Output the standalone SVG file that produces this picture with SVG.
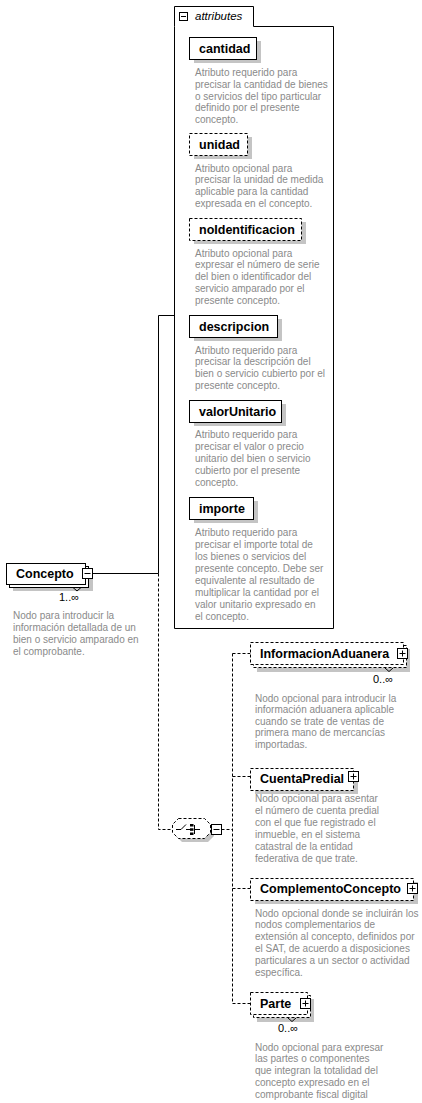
<svg xmlns="http://www.w3.org/2000/svg" width="422" height="1103" viewBox="0 0 422 1103">
<defs>
<style>
.bx{fill:#fff;stroke:#000;stroke-width:1}
.dsh{stroke-dasharray:3,2}
.sh{fill:#c4c4c4}
.nm{font-family:"Liberation Sans",Arial,sans-serif;font-weight:bold;font-size:12.5px;fill:#000}
.ds{font-family:"Liberation Sans",Arial,sans-serif;font-size:10px;fill:#8a8a8a}
.oc{font-family:"Liberation Sans",Arial,sans-serif;font-size:11px;fill:#000}
.ln{fill:none;stroke:#000;stroke-width:1}
.ic{fill:#fff;stroke:#000;stroke-width:1}
</style>
</defs>
<rect width="422" height="1103" fill="#fff"/>

<g id="connectors">
<path class="ln" d="M92.5,573.5 H158.5 M158.5,315.5 V573.5 M158.5,315.5 H174.5"/>
<path class="ln dsh" d="M158.5,573.5 V829.5 H172.5 M221.5,829.5 H232.5 M232.5,653.5 V1003.5 M232.5,653.5 H250.5 M232.5,776.5 H250.5 M232.5,888.5 H250.5 M232.5,1003.5 H250.5"/>
</g>

<g id="attributes">
<path class="bx" d="M174.5,26.5 V6.5 H253.5 V26.5 H333.5 V628.5 H174.5 Z"/>
<rect class="ic" x="179.5" y="12.5" width="8" height="8"/>
<path class="ln" d="M181,16.5 H186"/>
<text x="195" y="20" font-family="Liberation Sans, Arial, sans-serif" font-style="italic" font-size="11.5px" fill="#000">attributes</text>
</g>

<g id="attr-cantidad">
<rect class="sh" x="194" y="41" width="67" height="22"/>
<rect class="bx" x="189.5" y="37.5" width="67" height="22"/>
<text class="nm" x="199" y="53">cantidad</text>
<text class="ds"><tspan x="195" y="76">Atributo requerido para</tspan><tspan x="195" y="87.8">precisar la cantidad de bienes</tspan><tspan x="195" y="99.6">o servicios del tipo particular</tspan><tspan x="195" y="111.4">definido por el presente</tspan><tspan x="195" y="123.2">concepto.</tspan></text>
</g>

<g id="attr-unidad">
<rect class="sh" x="194" y="137" width="58" height="22"/>
<rect class="bx dsh" x="189.5" y="133.5" width="58" height="22"/>
<text class="nm" x="199" y="149">unidad</text>
<text class="ds"><tspan x="195" y="171.5">Atributo opcional para</tspan><tspan x="195" y="183.4">precisar la unidad de medida</tspan><tspan x="195" y="195.3">aplicable para la cantidad</tspan><tspan x="195" y="207.2">expresada en el concepto.</tspan></text>
</g>

<g id="attr-noIdentificacion">
<rect class="sh" x="194" y="222" width="112" height="22"/>
<rect class="bx dsh" x="189.5" y="218.5" width="112" height="22"/>
<text class="nm" x="199" y="234">noIdentificacion</text>
<text class="ds"><tspan x="195" y="256.5">Atributo opcional para</tspan><tspan x="195" y="268.4">expresar el número de serie</tspan><tspan x="195" y="280.3">del bien o identificador del</tspan><tspan x="195" y="292.2">servicio amparado por el</tspan><tspan x="195" y="304.1">presente concepto.</tspan></text>
</g>

<g id="attr-descripcion">
<rect class="sh" x="194" y="319" width="88" height="22"/>
<rect class="bx" x="189.5" y="315.5" width="88" height="22"/>
<text class="nm" x="199" y="331">descripcion</text>
<text class="ds"><tspan x="195" y="353.5">Atributo requerido para</tspan><tspan x="195" y="365.4">precisar la descripción del</tspan><tspan x="195" y="377.3">bien o servicio cubierto por el</tspan><tspan x="195" y="389.2">presente concepto.</tspan></text>
</g>

<g id="attr-valorUnitario">
<rect class="sh" x="194" y="404" width="92" height="22"/>
<rect class="bx" x="189.5" y="400.5" width="92" height="22"/>
<text class="nm" x="199" y="416">valorUnitario</text>
<text class="ds"><tspan x="195" y="437.5">Atributo requerido para</tspan><tspan x="195" y="449.5">precisar el valor o precio</tspan><tspan x="195" y="461.5">unitario del bien o servicio</tspan><tspan x="195" y="473.5">cubierto por el presente</tspan><tspan x="195" y="485.5">concepto.</tspan></text>
</g>

<g id="attr-importe">
<rect class="sh" x="194" y="501" width="64" height="22"/>
<rect class="bx" x="189.5" y="497.5" width="64" height="22"/>
<text class="nm" x="199" y="513">importe</text>
<text class="ds"><tspan x="195" y="535.5">Atributo requerido para</tspan><tspan x="195" y="547.5">precisar el importe total de</tspan><tspan x="195" y="559.5">los bienes o servicios del</tspan><tspan x="195" y="571.5">presente concepto. Debe ser</tspan><tspan x="195" y="583.5">equivalente al resultado de</tspan><tspan x="195" y="595.5">multiplicar la cantidad por el</tspan><tspan x="195" y="607.5">valor unitario expresado en</tspan><tspan x="195" y="619.5">el concepto.</tspan></text>
</g>

<g id="node-Concepto">
<rect class="sh" x="13" y="570" width="80" height="21"/>
<rect class="bx" x="9.5" y="566.5" width="79" height="21"/>
<rect class="bx" x="6.5" y="563.5" width="79" height="21"/>
<path class="ln" d="M73,587.5 L77,591 L81,587.5"/>
<text class="nm" x="16" y="578">Concepto</text>
<rect class="ic" x="82.5" y="568.5" width="10" height="10"/>
<path class="ln" d="M84.5,573.5 H90.5"/>
<text class="oc" x="59" y="601">1..∞</text>
<text class="ds"><tspan x="13" y="618.5">Nodo para introducir la</tspan><tspan x="13" y="630.5">información detallada de un</tspan><tspan x="13" y="642.5">bien o servicio amparado en</tspan><tspan x="13" y="654.5">el comprobante.</tspan></text>
</g>

<g id="sequence">
<path class="sh" d="M182,822 H208 L214,828 V836 L208,842 H182 L176,836 V828 Z"/>
<path class="bx dsh" d="M178.5,818.5 H204.5 L210.5,824.5 V832.5 L204.5,838.5 H178.5 L172.5,832.5 V824.5 Z"/>
<path class="ln" d="M176,829.5 H181 L186,824.5 M186,829.5 H190 M194.5,825 V834 M194.5,829.5 H200"/>
<rect x="190" y="824" width="3.5" height="2.5" fill="#000"/>
<rect x="190" y="828.3" width="3.5" height="2.5" fill="#000"/>
<rect x="190" y="832.5" width="3.5" height="2.5" fill="#000"/>
<rect class="ic" x="211.5" y="824.5" width="10" height="10"/>
<path class="ln" d="M213.5,829.5 H219.5"/>
</g>

<g id="node-InformacionAduanera">
<rect class="sh" x="257" y="649" width="153" height="23"/>
<rect class="bx dsh" x="253.5" y="645.5" width="153" height="22"/>
<rect class="bx dsh" x="250.5" y="642.5" width="153" height="22"/>
<path class="ln" d="M385,668 L389,671.5 L393,668"/>
<text class="nm" x="260" y="658">InformacionAduanera</text>
<rect class="ic" x="397.5" y="648.5" width="10" height="10"/>
<path class="ln" d="M399.5,653.5 H405.5 M402.5,650.5 V656.5"/>
<text class="oc" x="373" y="683">0..∞</text>
<text class="ds"><tspan x="255" y="701.5">Nodo opcional para introducir la</tspan><tspan x="255" y="713">información aduanera aplicable</tspan><tspan x="255" y="724.5">cuando se trate de ventas de</tspan><tspan x="255" y="736">primera mano de mercancías</tspan><tspan x="255" y="747.5">importadas.</tspan></text>
</g>

<g id="node-CuentaPredial">
<rect class="sh" x="255" y="772" width="103" height="22"/>
<rect class="bx dsh" x="250.5" y="768.5" width="103" height="22"/>
<text class="nm" x="260" y="783">CuentaPredial</text>
<rect class="ic" x="348.5" y="771.5" width="10" height="10"/>
<path class="ln" d="M350.5,776.5 H356.5 M353.5,773.5 V779.5"/>
<text class="ds"><tspan x="255" y="801.5">Nodo opcional para asentar</tspan><tspan x="255" y="813.5">el número de cuenta predial</tspan><tspan x="255" y="825.5">con el que fue registrado el</tspan><tspan x="255" y="837.5">inmueble, en el sistema</tspan><tspan x="255" y="849.5">catastral de la entidad</tspan><tspan x="255" y="861.5">federativa de que trate.</tspan></text>
</g>

<g id="node-ComplementoConcepto">
<rect class="sh" x="255" y="882" width="163" height="22"/>
<rect class="bx dsh" x="250.5" y="878.5" width="163" height="22"/>
<text class="nm" x="260" y="893">ComplementoConcepto</text>
<rect class="ic" x="407.5" y="883.5" width="10" height="10"/>
<path class="ln" d="M409.5,888.5 H415.5 M412.5,885.5 V891.5"/>
<text class="ds"><tspan x="255" y="916.5">Nodo opcional donde se incluirán los</tspan><tspan x="255" y="928.3">nodos complementarios de</tspan><tspan x="255" y="940.1">extensión al concepto, definidos por</tspan><tspan x="255" y="951.9">el SAT, de acuerdo a disposiciones</tspan><tspan x="255" y="963.7">particulares a un sector o actividad</tspan><tspan x="255" y="975.5">específica.</tspan></text>
</g>

<g id="node-Parte">
<rect class="sh" x="257" y="999" width="57" height="23"/>
<rect class="bx dsh" x="253.5" y="995.5" width="57" height="22"/>
<rect class="bx dsh" x="250.5" y="992.5" width="57" height="22"/>
<path class="ln" d="M288,1018 L292,1021.5 L296,1018"/>
<text class="nm" x="260" y="1008">Parte</text>
<rect class="ic" x="300.5" y="998.5" width="10" height="10"/>
<path class="ln" d="M302.5,1003.5 H308.5 M305.5,1000.5 V1006.5"/>
<text class="oc" x="278" y="1032">0..∞</text>
<text class="ds"><tspan x="255" y="1050.5">Nodo opcional para expresar</tspan><tspan x="255" y="1062.3">las partes o componentes</tspan><tspan x="255" y="1074.1">que integran la totalidad del</tspan><tspan x="255" y="1085.9">concepto expresado en el</tspan><tspan x="255" y="1097.7">comprobante fiscal digital</tspan></text>
</g>
</svg>
